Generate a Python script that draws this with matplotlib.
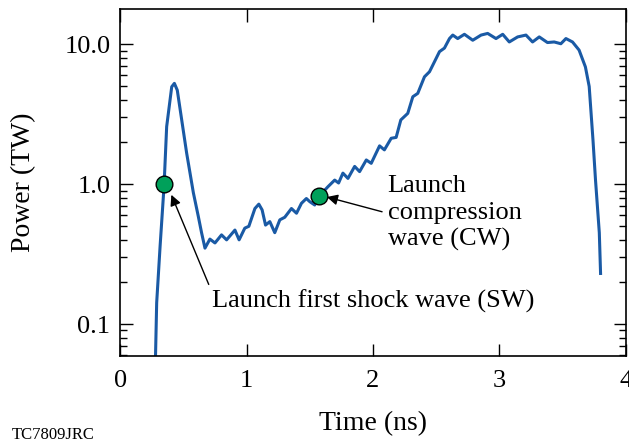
import numpy as np
import matplotlib.pyplot as plt
from matplotlib.ticker import FixedLocator, LogLocator, NullFormatter

plt.rcParams['font.family'] = ['Liberation Serif', 'DejaVu Serif']

# pulse shape (time in ns, power in TW)
time = [0.280, 0.289, 0.316, 0.347, 0.368, 0.408, 0.429, 0.452, 0.487, 0.526,
        0.579, 0.618, 0.644, 0.671, 0.710, 0.750, 0.802, 0.842, 0.908, 0.941,
        0.986, 1.018, 1.066, 1.097, 1.123, 1.150, 1.184, 1.223, 1.263, 1.302,
        1.355, 1.395, 1.434, 1.473, 1.500, 1.539, 1.571, 1.644, 1.697, 1.728,
        1.762, 1.802, 1.855, 1.894, 1.947, 1.986, 2.052, 2.090, 2.144, 2.183,
        2.220, 2.275, 2.315, 2.354, 2.407, 2.447, 2.486, 2.526, 2.565, 2.605,
        2.631, 2.670, 2.723, 2.789, 2.855, 2.907, 2.973, 3.026, 3.078, 3.144,
        3.210, 3.262, 3.315, 3.380, 3.433, 3.486, 3.526, 3.578, 3.630, 3.680,
        3.710, 3.740, 3.760, 3.790, 3.800]
power = [0.060, 0.142, 0.360, 0.960, 2.580, 4.970, 5.260, 4.700, 2.880, 1.670,
         0.870, 0.590, 0.450, 0.349, 0.405, 0.380, 0.434, 0.400, 0.470, 0.400,
         0.485, 0.500, 0.670, 0.720, 0.655, 0.510, 0.540, 0.450, 0.556, 0.580,
         0.670, 0.620, 0.730, 0.790, 0.750, 0.710, 0.815, 0.960, 1.070, 1.020,
         1.200, 1.100, 1.340, 1.230, 1.490, 1.410, 1.880, 1.760, 2.130, 2.160,
         2.880, 3.210, 4.220, 4.460, 5.860, 6.370, 7.500, 8.870, 9.400, 11.000,
         11.650, 11.000, 11.800, 10.700, 11.650, 11.970, 11.000, 11.800, 10.400, 11.300,
         11.650, 10.400, 11.300, 10.300, 10.400, 10.100, 11.000, 10.400, 9.100, 6.900,
         5.000, 2.070, 1.070, 0.450, 0.230]

# launch points marked on the curve
mark_t = [0.345, 1.575]
mark_p = [1.0, 0.82]

fig = plt.figure(figsize=(6.29, 4.44), dpi=100)
ax = fig.add_axes([0.191, 0.198, 0.804, 0.781])

ax.plot(time, power, color='#1a5aa5', lw=2.2)
ax.plot(mark_t, mark_p, 'o', ms=12, mfc='#00a05a', mec='black', mew=1, zorder=5)

ax.set_yscale('log')
ax.set_xlim(0, 4)
ax.set_ylim(0.059, 17.8)
ax.set_xticks([0, 1, 2, 3, 4])
ax.set_xticklabels(['0', '1', '2', '3', '4'])
ax.yaxis.set_major_locator(FixedLocator([0.1, 1.0, 10.0]))
ax.set_yticklabels(['0.1', '1.0', '10.0'])
ax.yaxis.set_minor_locator(LogLocator(base=10, subs=np.arange(2, 10)))
ax.yaxis.set_minor_formatter(NullFormatter())

ax.tick_params(which='both', direction='in', top=True, right=True, labelsize=19, width=1)
ax.tick_params(which='major', length=9, pad=7)
ax.tick_params(which='minor', length=5)
ax.tick_params(axis='x', which='major', pad=10)
for s in ax.spines.values():
    s.set_linewidth(1.2)

ax.set_xlabel('Time (ns)', fontsize=20, labelpad=14)
ax.set_ylabel('Power (TW)', fontsize=20, labelpad=20)

ax.annotate('Launch first shock wave (SW)', xy=(0.405, 0.84), xytext=(0.73, 0.145),
            fontsize=19, va='center', ha='left',
            arrowprops=dict(arrowstyle='-|>', color='black', lw=1, shrinkA=2, shrinkB=0,
                            relpos=(0, 0.85), mutation_scale=16))
ax.annotate('Launch\ncompression\nwave (CW)', xy=(1.635, 0.81), xytext=(2.115, 0.62),
            fontsize=19, va='center', ha='left', linespacing=1.27,
            arrowprops=dict(arrowstyle='-|>', color='black', lw=1, shrinkA=2, shrinkB=0,
                            relpos=(0, 0.5), mutation_scale=16))

fig.text(0.018, 0.012, 'TC7809JRC', fontsize=12)

fig.savefig('out.png', dpi=100)
